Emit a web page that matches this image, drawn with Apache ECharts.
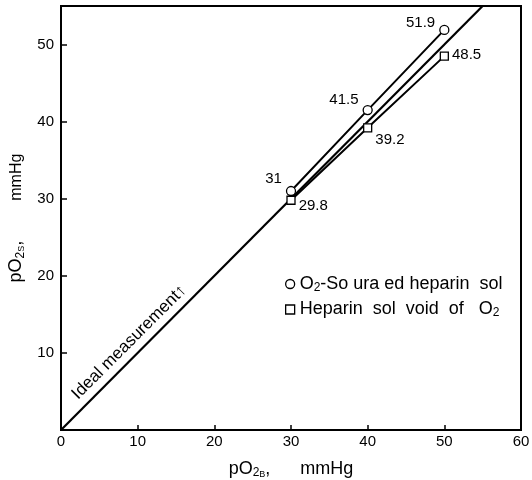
<!DOCTYPE html>
<html><head><meta charset="utf-8">
<script src="https://cdn.jsdelivr.net/npm/echarts@6/dist/echarts.min.js"></script>
<style>html,body{margin:0;padding:0;background:#fff}#c{width:532px;height:480px}</style>
</head><body><div id="c"></div>
<script>
const xValues = [30, 40, 50];
const saturated = [31, 41.5, 51.9];
const voidO2 = [29.8, 39.2, 48.5];
const satLabels = ['31', '41.5', '51.9'];
const voidLabels = ['29.8', '39.2', '48.5'];
const idealX = [0, 55];
const idealY = [0, 55];

const FONT = 'Liberation Sans';
const satLabelOffsets = [[-2, -12], [-2, -10], [-2, -7]];
const voidLabelOffsets = [[0, 6], [0, 12], [0, -1]];

const chart = echarts.init(document.getElementById('c'), null, {renderer: 'canvas'});
const richX = {
  t: {fontFamily: FONT, fontSize: 18, color: '#000'},
  s: {fontFamily: FONT, fontSize: 12, color: '#000', verticalAlign: 'bottom', padding: [7, 0, 0, 0]},
  ss: {fontFamily: FONT, fontSize: 9, color: '#000', verticalAlign: 'bottom', padding: [11, 0, 0, 0]}
};
const richY = {
  t: {fontFamily: FONT, fontSize: 18, color: '#000'},
  m: {fontFamily: FONT, fontSize: 16, color: '#000'},
  s: {fontFamily: FONT, fontSize: 12, color: '#000', verticalAlign: 'bottom', padding: [7, 0, 0, 0]},
  ss: {fontFamily: FONT, fontSize: 9, color: '#000', verticalAlign: 'bottom', padding: [11, 0, 0, 0]}
};
const option = {
  backgroundColor: '#fff',
  animation: false,
  grid: {left: 61, right: 11, top: 6, bottom: 50, show: true, borderColor: '#000', borderWidth: 2,
    backgroundColor: 'transparent', containLabel: false, outerBoundsMode: 'none'},
  xAxis: {
    type: 'value', min: 0, max: 60, interval: 10,
    axisLine: {lineStyle: {color: '#000', width: 2}},
    axisTick: {inside: true, length: 5, lineStyle: {color: '#000', width: 1.5}},
    axisLabel: {color: '#000', fontFamily: FONT, fontSize: 15, margin: 4, showMaxLabel: true},
    splitLine: {show: false},
    name: '{t|pO}{s|2}{ss|B}{t|,      mmHg}',
    nameLocation: 'middle', nameGap: 29,
    nameTextStyle: {rich: richX}
  },
  yAxis: {
    type: 'value', min: 0, max: 55, interval: 10,
    axisLine: {lineStyle: {color: '#000', width: 2}},
    axisTick: {inside: true, length: 6, lineStyle: {color: '#000', width: 1.5}},
    axisLabel: {color: '#000', fontFamily: FONT, fontSize: 15, margin: 7, showMinLabel: false,
      formatter: v => (v % 10 === 0 ? String(v) : '')},
    splitLine: {show: false},
    name: '{t|pO}{s|2}{ss|S}{t|,}{m|         mmHg}',
    nameLocation: 'middle', nameGap: 24,
    nameTextStyle: {rich: richY}
  },
  legend: {
    orient: 'vertical', left: 280, top: 270, itemGap: 7, itemWidth: 9, itemHeight: 9,
    data: [
      {name: 'sat', icon: 'circle'},
      {name: 'void', icon: 'rect'}
    ],
    formatter: n => n === 'sat' ? '{t|O}{s|2}{t|-So ura ed heparin  sol}' : '{t|Heparin  sol  void  of   O}{s|2}',
    textStyle: {rich: {
      t: {fontFamily: FONT, fontSize: 18, color: '#000'},
      s: {fontFamily: FONT, fontSize: 12, color: '#000', verticalAlign: 'bottom', padding: [7, 0, 0, 0]}
    }},
    itemStyle: {color: '#fff', borderColor: '#000', borderWidth: 1.3}
  },
  series: [
    {
      name: 'ideal', type: 'line', showSymbol: false, symbol: 'none',
      data: idealX.map((x, i) => [x, idealY[i]]),
      lineStyle: {color: '#000', width: 2.2}, silent: true
    },
    {
      name: 'sat', type: 'line', symbol: 'circle', symbolSize: 9,
      data: xValues.map((x, i) => ({value: [x, saturated[i]], label: {offset: satLabelOffsets[i], formatter: satLabels[i]}})),
      lineStyle: {color: '#000', width: 2},
      itemStyle: {color: '#fff', borderColor: '#000', borderWidth: 1.3},
      label: {show: true, position: 'left', distance: 2, color: '#000', fontFamily: FONT, fontSize: 15},
      z: 3
    },
    {
      name: 'void', type: 'line', symbol: 'rect', symbolSize: 8,
      data: xValues.map((x, i) => ({value: [x, voidO2[i]], label: {offset: voidLabelOffsets[i], formatter: voidLabels[i]}})),
      lineStyle: {color: '#000', width: 2},
      itemStyle: {color: '#fff', borderColor: '#000', borderWidth: 1.3},
      label: {show: true, position: 'right', distance: 3, color: '#000', fontFamily: FONT, fontSize: 15},
      z: 3
    }
  ]
};
chart.setOption(option);
const p = chart.convertToPixel({gridIndex: 0}, [8.9, 11.4]);
chart.setOption({
  graphic: [{
    type: 'text', x: p[0], y: p[1], rotation: Math.PI / 4,
    style: {text: 'Ideal measurement\u2191', fill: '#000', font: '17px "' + FONT + '"', align: 'center', verticalAlign: 'middle'}
  }]
});
</script>
</body></html>
